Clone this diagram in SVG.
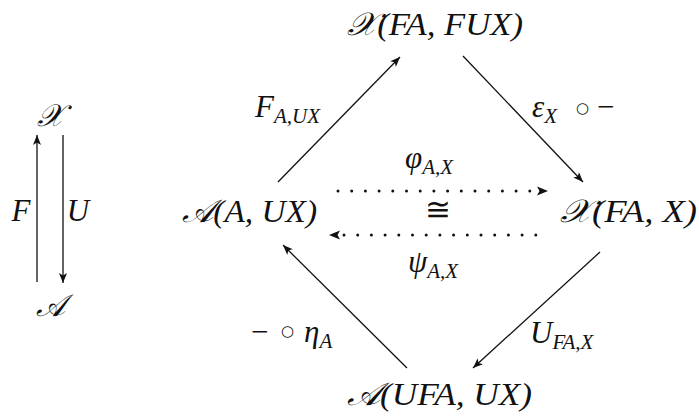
<svg xmlns="http://www.w3.org/2000/svg" width="699" height="417" viewBox="0 0 699 417">
<defs>
<style>
.m{font-family:"Liberation Serif","DejaVu Serif",serif;font-style:italic;fill:#111}
.n{font-size:32px}
.l{font-size:31px}
.s{font-size:21px}
.r{font-style:normal}
.o{font-style:normal;font-family:"DejaVu Sans",sans-serif;font-size:15px}
.e{stroke:#111;stroke-width:1.3;fill:none}
.d{stroke:#111;stroke-width:3;fill:none;stroke-linecap:round;stroke-dasharray:0 13.7}
</style>
<marker id="ah" viewBox="0 0 10 8" refX="10" refY="4" markerWidth="10" markerHeight="8" markerUnits="userSpaceOnUse" orient="auto">
<path d="M0,0 L10,4 L0,8 L2.5,4 Z" fill="#111"/>
</marker>
</defs>
<rect width="699" height="417" fill="#fff"/>
<g id="connectors">
<line class="e" x1="37" y1="282" x2="37" y2="135" marker-end="url(#ah)"/>
<line class="e" x1="63" y1="135" x2="63" y2="283" marker-end="url(#ah)"/>
<line class="e" x1="278" y1="182" x2="400" y2="57" marker-end="url(#ah)"/>
<line class="e" x1="463" y1="56" x2="583" y2="182" marker-end="url(#ah)"/>
<line class="e" x1="600" y1="252" x2="473" y2="368" marker-end="url(#ah)"/>
<line class="e" x1="407" y1="368" x2="283" y2="245" marker-end="url(#ah)"/>
<line class="d" x1="338" y1="191" x2="537" y2="191"/>
<path d="M548,191 L537,186.5 L539.5,191 L537,195.5 Z" fill="#111"/>
<line class="d" x1="344" y1="235" x2="543" y2="235"/>
<path d="M329,235 L340,230.5 L337.5,235 L340,239.5 Z" fill="#111"/>
</g>
<g id="node-X-small"><text class="m l" x="50" y="126" text-anchor="middle">𝒳</text></g>
<g id="node-A-small"><text class="m l" x="50" y="316" text-anchor="middle">𝒜</text></g>
<g id="label-F"><text class="m l" x="21" y="221" text-anchor="middle">F</text></g>
<g id="label-U"><text class="m l" x="78" y="221" text-anchor="middle">U</text></g>
<g id="node-top"><text class="m n" x="347" y="35" textLength="176" lengthAdjust="spacingAndGlyphs">𝒳(FA, FUX)</text></g>
<g id="node-left"><text class="m n" x="182" y="222" textLength="135" lengthAdjust="spacingAndGlyphs">𝒜(A, UX)</text></g>
<g id="node-right"><text class="m n" x="560" y="222" textLength="137" lengthAdjust="spacingAndGlyphs">𝒳(FA, X)</text></g>
<g id="node-bottom"><text class="m n" x="347" y="405" textLength="185" lengthAdjust="spacingAndGlyphs">𝒜(UFA, UX)</text></g>
<g id="label-FAUX"><text class="m l" x="255" y="117">F<tspan class="s" dy="6">A,UX</tspan></text></g>
<g id="label-eps"><text class="m l" x="532" y="117">ε<tspan class="s" dy="6">X</tspan><tspan class="o" x="576" dy="-10">○</tspan><tspan class="r" x="597" dy="4">−</tspan></text></g>
<g id="label-phi"><text class="m l" x="405" y="168">φ<tspan class="s" dy="6">A,X</tspan></text></g>
<g id="label-iso"><text class="m l r" x="438" y="220" text-anchor="middle">≅</text></g>
<g id="label-psi"><text class="m l" x="408" y="272">ψ<tspan class="s" dy="6">A,X</tspan></text></g>
<g id="label-eta"><text class="m l" x="251" y="342"><tspan class="r">−</tspan><tspan class="o" x="281" dy="-6">○</tspan><tspan x="304" dy="6">η</tspan><tspan class="s" dy="6">A</tspan></text></g>
<g id="label-UFAX"><text class="m l" x="530" y="343">U<tspan class="s" dy="6">FA,X</tspan></text></g>
</svg>
